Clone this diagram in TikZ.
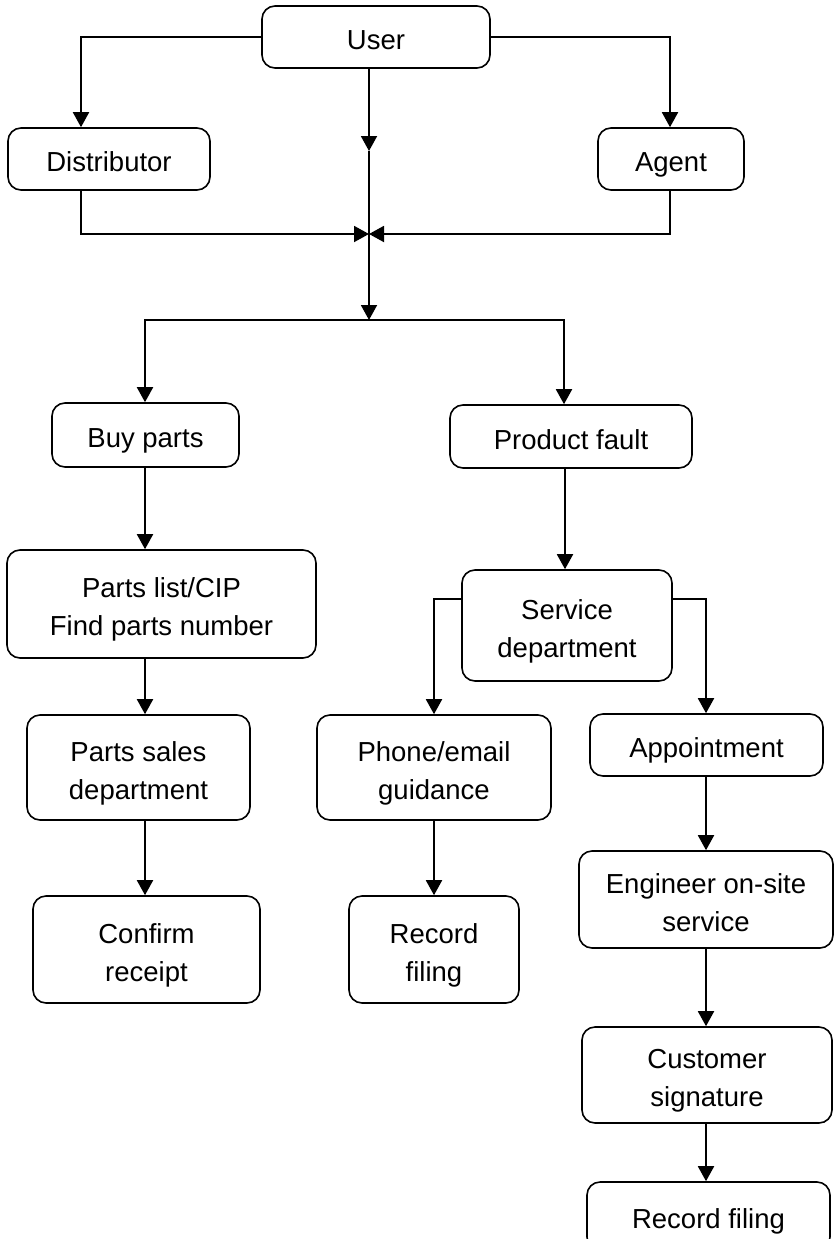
\documentclass[tikz,border=0pt]{standalone}
\usepackage{fontspec}
\setmainfont{Liberation Sans}
\usetikzlibrary{arrows.meta}
\tikzset{
  box/.style={draw, line width=1.6pt, rounded corners=13pt, align=center, inner sep=0pt,
    font=\fontsize{27.5}{38}\selectfont, text height=25pt, text depth=0pt},
  boxtwo/.style={box, text height=63pt, text depth=0pt},
  arr/.style={line width=1.9pt, -{Triangle[length=15pt,width=16pt]}},
  ln/.style={line width=1.9pt}
}
\begin{document}
\begin{tikzpicture}[x=1pt,y=-1pt]
\useasboundingbox (0,0) rectangle (837,1239);
\coordinate (colL) at (145,0);
\coordinate (colM) at (434,0);
\coordinate (colR) at (706,0);
\coordinate (colC) at (369,0);

\node[box, minimum width=228pt, minimum height=62pt] (user) at (376,37) {User};
\node[box, minimum width=202pt, minimum height=62pt] (dist) at (109,159) {Distributor};
\node[box, minimum width=146pt, minimum height=62pt] (agent) at (671,159) {Agent};
\node[box, minimum width=187pt, minimum height=64pt] (buy) at (145.5,435) {Buy parts};
\node[box, minimum width=242pt, minimum height=63pt] (fault) at (571,436.5) {Product fault};
\node[boxtwo, minimum width=309pt, minimum height=108pt] (plist) at (161.5,604) {Parts list/CIP\\Find parts number};
\node[boxtwo, minimum width=210pt, minimum height=111pt] (svc) at (567,625.5) {Service\\department};
\node[boxtwo, minimum width=223pt, minimum height=105pt] (psales) at (138.5,767.5) {Parts sales\\department};
\node[boxtwo, minimum width=234pt, minimum height=105pt] (phone) at (434,767.5) {Phone/email\\guidance};
\node[box, minimum width=233pt, minimum height=62pt] (appt) at (706.5,745) {Appointment};
\node[boxtwo, minimum width=227pt, minimum height=107pt] (confirm) at (146.5,949.5) {Confirm\\receipt};
\node[boxtwo, minimum width=170pt, minimum height=107pt] (rec1) at (434,949.5) {Record\\filing};
\node[boxtwo, minimum width=254pt, minimum height=97pt] (eng) at (706,899.5) {Engineer on-site\\service};
\node[boxtwo, minimum width=250pt, minimum height=96pt] (cust) at (707,1075) {Customer\\signature};
\node[box, minimum width=243pt, minimum height=68pt] (rec2) at (708.5,1216) {Record filing};

\coordinate (c1) at (369,151);
\coordinate (m) at (369,234);
\coordinate (split) at (369,320);

% top
\draw[arr] (user.west) -| ([xshift=-28pt]dist.north);
\draw[arr] (user.east) -| ([xshift=-1pt]agent.north);
\draw[arr] (user.south -| colC) -- (c1);
\draw[ln] (c1) -- (m);
\draw[arr] ([xshift=-28pt]dist.south) |- (m);
\draw[arr] ([xshift=-1pt]agent.south) |- (m);
\draw[arr] (m) -- (split);
\draw[arr] (split) -| (buy.north -| colL);
\draw[arr] (split) -| ([xshift=-7pt]fault.north);

% left column
\draw[arr] (buy.south -| colL) -- (plist.north -| colL);
\draw[arr] (plist.south -| colL) -- (psales.north -| colL);
\draw[arr] (psales.south -| colL) -- (confirm.north -| colL);

% right part
\draw[arr] ([xshift=-2pt]svc.north |- fault.south) -- ([xshift=-2pt]svc.north);
\draw[arr] ([yshift=26.5pt]svc.west) -| (phone.north -| colM);
\draw[arr] ([yshift=26.5pt]svc.east) -| (appt.north -| colR);
\draw[arr] (phone.south -| colM) -- (rec1.north -| colM);
\draw[arr] (appt.south -| colR) -- (eng.north -| colR);
\draw[arr] (eng.south -| colR) -- (cust.north -| colR);
\draw[arr] (cust.south -| colR) -- (rec2.north -| colR);
\end{tikzpicture}
\end{document}
